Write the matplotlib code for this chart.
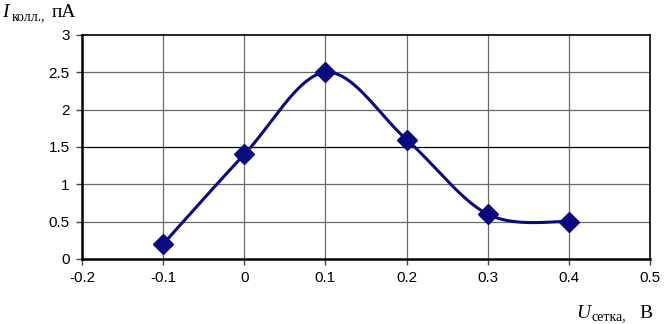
import numpy as np
import matplotlib
matplotlib.use("Agg")
import matplotlib.pyplot as plt

# data
u_grid = [-0.1, 0.0, 0.1, 0.2, 0.3, 0.4]
i_coll = [0.2, 1.4, 2.5, 1.6, 0.6, 0.5]

x_ticks = [-0.2, -0.1, 0, 0.1, 0.2, 0.3, 0.4, 0.5]
x_labels = ["-0.2", "-0.1", "0", "0.1", "0.2", "0.3", "0.4", "0.5"]
y_ticks = [0, 0.5, 1, 1.5, 2, 2.5, 3]
y_labels = ["0", "0.5", "1", "1.5", "2", "2.5", "3"]

navy = "#0a0a80"


def smooth(ax, xs, ys, n=40):
    # Excel-like smoothing: Catmull-Rom through points in display space
    pts = ax.transData.transform(np.column_stack([xs, ys]))
    p = np.vstack([pts[0], pts, pts[-1]])
    out = []
    for k in range(1, len(p) - 2):
        p0, p1, p2, p3 = p[k - 1], p[k], p[k + 1], p[k + 2]
        c1 = p1 + (p2 - p0) / 6.0
        c2 = p2 - (p3 - p1) / 6.0
        t = np.linspace(0, 1, n)[:, None]
        seg = ((1 - t) ** 3) * p1 + 3 * ((1 - t) ** 2) * t * c1 + 3 * (1 - t) * t ** 2 * c2 + t ** 3 * p2
        out.append(seg)
    out = np.vstack(out)
    return ax.transData.inverted().transform(out)


fig = plt.figure(figsize=(6.69, 3.24), dpi=100)
ax = fig.add_axes([82 / 669, 65 / 324, 568 / 669, 224 / 324])

ax.set_xlim(-0.2, 0.5)
ax.set_ylim(0, 3)
ax.set_xticks(x_ticks)
ax.set_xticklabels(x_labels)
ax.set_yticks(y_ticks)
ax.set_yticklabels(y_labels)
ax.tick_params(direction="out", length=4, width=1, color="#444444",
               labelsize=11, labelcolor="black", pad=5)
for lab in ax.get_xticklabels() + ax.get_yticklabels():
    lab.set_family(["Liberation Sans", "DejaVu Sans"])

for v in x_ticks[1:-1]:
    ax.axvline(v, color="#6a6a6a", lw=0.9, zorder=1)
for v in y_ticks[1:-1]:
    ax.axhline(v, color="black" if v == 1.5 else "#6a6a6a", lw=0.9, zorder=1)

for side in ["top", "right"]:
    ax.spines[side].set_linewidth(1.2)
for side in ["left", "bottom"]:
    ax.spines[side].set_linewidth(1.8)

curve = smooth(ax, u_grid, i_coll)
ax.plot(curve[:, 0], curve[:, 1], color=navy, lw=2.2, zorder=3, solid_capstyle="round")
ax.plot(u_grid, i_coll, linestyle="none", marker="D", markersize=10,
        color=navy, zorder=4)

serif = ["Liberation Serif", "DejaVu Serif"]
fig.text(2 / 669, 1 - 17 / 324, "I", fontsize=14, style="italic", family=serif)
fig.text(12 / 669, 1 - 20 / 324, "колл.,", fontsize=10, family=serif)
fig.text(52 / 669, 1 - 17 / 324, "пА", fontsize=14, family=serif)

fig.text(576 / 669, 1 - 318 / 324, "U", fontsize=14, style="italic", family=serif)
fig.text(592 / 669, 1 - 320 / 324, "сетка,", fontsize=10, family=serif)
fig.text(639 / 669, 1 - 318 / 324, "В", fontsize=14, family=serif)

fig.savefig("out.png", dpi=100)
